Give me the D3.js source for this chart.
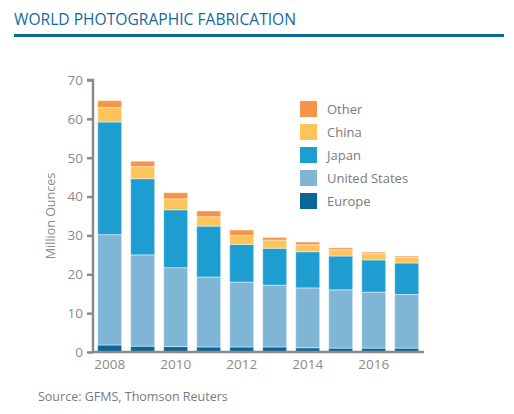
<!DOCTYPE html>
<html>
<head>
<meta charset="utf-8">
<script src="https://cdn.jsdelivr.net/npm/d3@7"></script>
<style>
body{margin:0;background:#fff;}
svg{display:block;font-family:"Open Sans","Noto Sans",sans-serif;}
</style>
</head>
<body>
<svg id="chart" width="514" height="414"></svg>
<script>
const years = ["2008","2009","2010","2011","2012","2013","2014","2015","2016","2017"];
const europe = [1.8,1.5,1.4,1.3,1.3,1.3,1.1,1.0,1.0,1.0];
const unitedStates = [28.4,23.5,20.3,18.0,16.7,15.9,15.4,15.0,14.4,13.8];
const japan = [29.0,19.6,14.9,13.1,9.7,9.5,9.3,8.7,8.3,8.1];
const china = [3.7,3.1,2.8,2.4,2.3,2.1,1.8,1.6,1.6,1.5];
const other = [1.8,1.4,1.6,1.5,1.4,0.7,0.7,0.5,0.4,0.3];
const seriesNames = ["Europe","United States","Japan","China","Other"];
const seriesColors = ["#0b6597","#7fb5d5","#1e9dd0","#fec45a","#f8944a"];
const yTicks = [0,10,20,30,40,50,60,70];
const xTickLabels = ["2008","2010","2012","2014","2016"];

const svg = d3.select("#chart");
const rows = years.map((y,i)=>({year:y,"Europe":europe[i],"United States":unitedStates[i],"Japan":japan[i],"China":china[i],"Other":other[i]}));
const stacked = d3.stack().keys(seriesNames)(rows);

const x = d3.scaleBand().domain(years).range([93,423.4]).paddingInner(9/33).paddingOuter(0.142);
const y = d3.scaleLinear().domain([0,70]).range([352,80]);
const color = d3.scaleOrdinal().domain(seriesNames).range(seriesColors);

// Title
svg.append("text").attr("x",14).attr("y",25).text("WORLD PHOTOGRAPHIC FABRICATION")
  .attr("fill","#16699c").attr("font-size",15.5).attr("font-weight",400).attr("font-family","'Open Sans',sans-serif")
  .attr("textLength",282).attr("lengthAdjust","spacingAndGlyphs");
svg.append("rect").attr("x",14).attr("y",34).attr("width",490).attr("height",3).attr("fill","#0b6a9d");

// Bars
svg.append("g").selectAll("g").data(stacked).join("g")
  .attr("fill",d=>color(d.key))
  .selectAll("rect").data(d=>d).join("rect")
  .attr("x",d=>x(d.data.year))
  .attr("y",d=>y(d[1]))
  .attr("width",x.bandwidth())
  .attr("height",d=>y(d[0])-y(d[1]))
  .attr("stroke","rgba(255,255,255,0.45)").attr("stroke-width",1);

// Y axis
const yAxis = svg.append("g").attr("transform","translate(93,0)")
  .call(d3.axisLeft(y).tickValues(yTicks).tickSize(6).tickPadding(4));
yAxis.select(".domain").attr("stroke","#8a8a8a").attr("stroke-width",2.5).attr("d","M-6,80H0V352");
yAxis.selectAll(".tick line").attr("stroke","#8a8a8a").attr("stroke-width",2.5);
yAxis.selectAll(".tick text").attr("fill","#8a8a8a").attr("font-size",13.5).attr("font-family","'Open Sans',sans-serif");

// X axis
const xAxis = svg.append("g").attr("transform","translate(0,352)")
  .call(d3.axisBottom(x).tickValues(xTickLabels).tickSize(0).tickPadding(7));
xAxis.select(".domain").attr("stroke","#8a8a8a").attr("stroke-width",2.5).attr("d","M92,0H424");
xAxis.selectAll(".tick text").attr("fill","#8a8a8a").attr("font-size",13.5).attr("font-family","'Open Sans',sans-serif");

// Y label
svg.append("text").attr("transform","translate(55,216) rotate(-90)").attr("text-anchor","middle")
  .attr("fill","#8a8a8a").attr("font-size",12.5).text("Million Ounces");

// Legend
const legendOrder = ["Other","China","Japan","United States","Europe"];
const lg = svg.append("g").selectAll("g").data(legendOrder).join("g")
  .attr("transform",(d,i)=>`translate(300,${101+i*23})`);
lg.append("rect").attr("width",17).attr("height",16).attr("fill",d=>color(d));
lg.append("text").attr("x",27).attr("y",13).attr("fill","#7a7a7a").attr("font-size",13).text(d=>d);

// Source
svg.append("text").attr("x",38).attr("y",401).attr("fill","#7a7a7a").attr("font-size",12.5).text("Source: GFMS, Thomson Reuters");
</script>
</body>
</html>
